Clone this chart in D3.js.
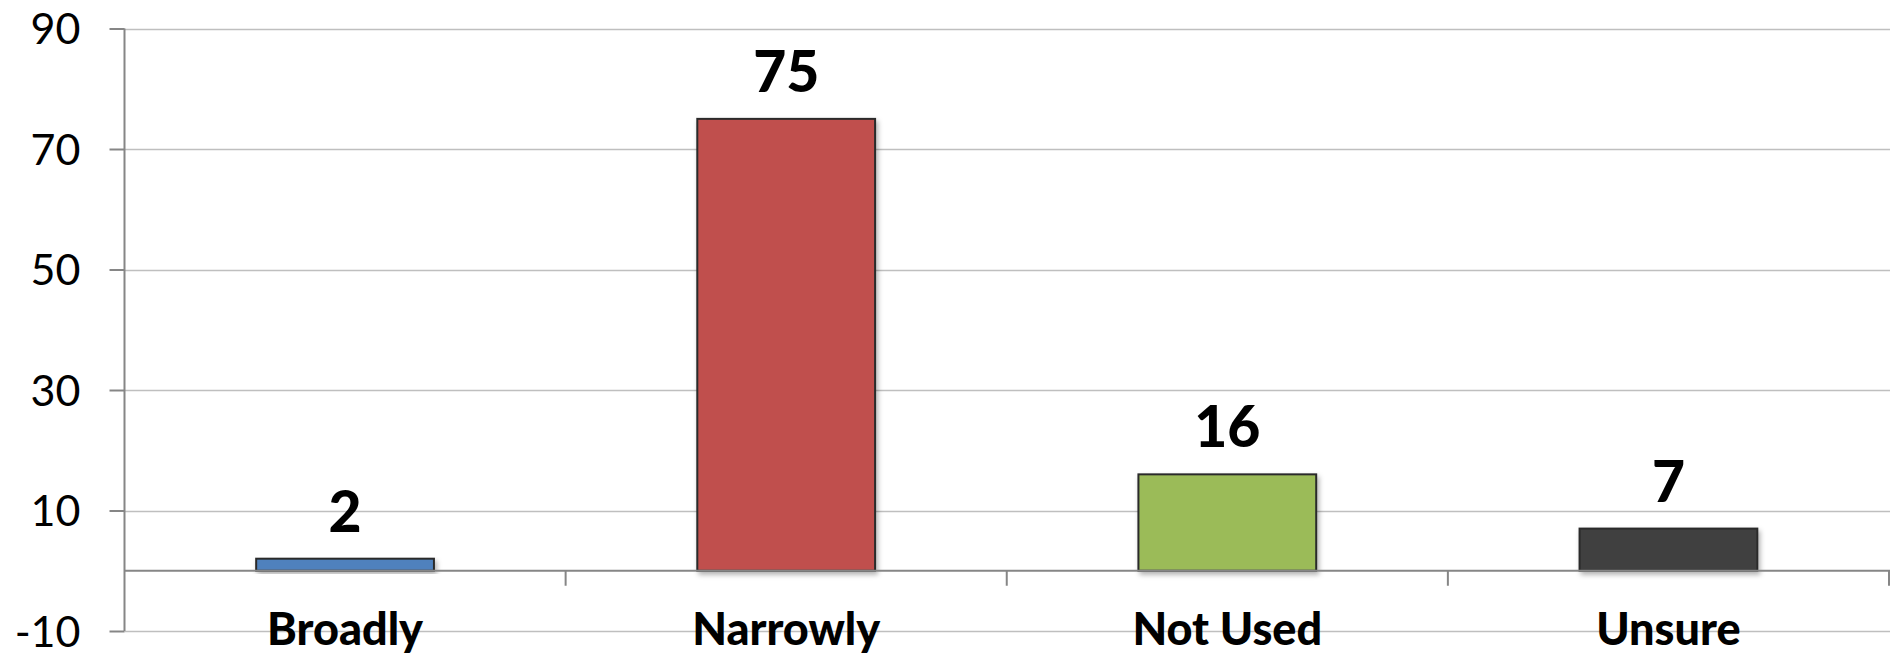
<!DOCTYPE html>
<html>
<head>
<meta charset="utf-8">
<script src="https://cdn.jsdelivr.net/npm/d3@7"></script>
<style>
  html, body { margin: 0; padding: 0; background: #fff; }
  svg { display: block; }
</style>
</head>
<body>
<svg id="chart" width="1890" height="654"></svg>
<script>
const categories = ["Broadly", "Narrowly", "Not Used", "Unsure"];
const values = [2, 75, 16, 7];
const colors = ["#4F81BD", "#C0504D", "#9BBB59", "#404040"];
const yTicks = [-10, 10, 30, 50, 70, 90];
const yTickLabels = ["-10", "10", "30", "50", "70", "90"];

const W = 1890, H = 654;
const left = 124.5, right = 1889;
const svg = d3.select("#chart");

const defs = svg.append("defs");
const f = defs.append("filter").attr("id", "shadow").attr("x", "-10%").attr("y", "-10%").attr("width", "130%").attr("height", "130%");
f.append("feDropShadow").attr("dx", 2).attr("dy", 3).attr("stdDeviation", 2.5).attr("flood-color", "#000").attr("flood-opacity", 0.3);

const y = d3.scaleLinear().domain([-10, 90]).range([631, 28.5]);
const x = d3.scaleBand().domain(categories).range([left, right]).paddingInner(0.597).paddingOuter(0.2985);
const step = x.step();

// gridlines
svg.append("g").selectAll("line").data(yTicks).join("line")
  .attr("x1", left).attr("x2", W)
  .attr("y1", d => Math.round(y(d)) + 0.5).attr("y2", d => Math.round(y(d)) + 0.5)
  .attr("stroke", "#BFBFBF").attr("stroke-width", 1.5);

// y axis
const yAxis = d3.axisLeft(y).tickValues(yTicks).tickSize(15).tickPadding(29)
  .tickFormat((d, i) => yTickLabels[i]);
const gy = svg.append("g").attr("transform", `translate(${left},0)`).call(yAxis);
gy.select(".domain").attr("stroke", "#868686").attr("stroke-width", 2).attr("d", `M-0,${y(90)}V${y(-10)}`);
gy.selectAll(".tick line").attr("stroke", "#868686").attr("stroke-width", 2);
gy.selectAll(".tick text").attr("fill", "#000").style("font-family", "Lato, 'Open Sans', sans-serif").style("font-size", "43px").attr("dy", "0.35em");

// bars
svg.append("g").selectAll("rect").data(values).join("rect")
  .attr("x", (d, i) => x(categories[i]))
  .attr("width", x.bandwidth())
  .attr("y", d => y(d))
  .attr("height", d => y(0) - y(d))
  .attr("fill", (d, i) => colors[i])
  .attr("stroke", "#2b2b2b").attr("stroke-width", 2)
  .attr("filter", "url(#shadow)");

// category axis (zero line)
const y0 = y(0);
svg.append("line").attr("x1", left).attr("x2", W).attr("y1", y0).attr("y2", y0)
  .attr("stroke", "#868686").attr("stroke-width", 2);
svg.append("g").selectAll("line").data(d3.range(1, 5)).join("line")
  .attr("x1", i => left + i * step).attr("x2", i => left + i * step)
  .attr("y1", y0).attr("y2", y0 + 15)
  .attr("stroke", "#868686").attr("stroke-width", 2);

// category labels
svg.append("g").selectAll("text").data(categories).join("text")
  .attr("x", d => x(d) + x.bandwidth() / 2)
  .attr("y", 645)
  .attr("text-anchor", "middle")
  .style("font-family", "Lato, 'Open Sans', sans-serif").style("font-weight", "900").style("font-size", "45px")
  .text(d => d);

// value labels
svg.append("g").selectAll("text").data(values).join("text")
  .attr("x", (d, i) => x(categories[i]) + x.bandwidth() / 2)
  .attr("y", d => y(d) - 27)
  .attr("text-anchor", "middle")
  .style("font-family", "Lato, 'Open Sans', sans-serif").style("font-weight", "900").style("font-size", "57px")
  .text(d => d);
</script>
</body>
</html>
